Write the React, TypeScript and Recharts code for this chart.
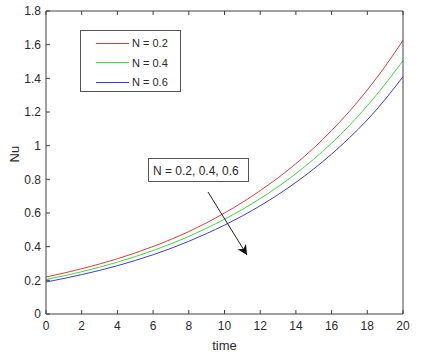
import React from 'react';
import { LineChart, Line, XAxis, YAxis, Label } from 'recharts';

const times = [0, 1, 2, 3, 4, 5, 6, 7, 8, 9, 10, 11, 12, 13, 14, 15, 16, 17, 18, 19, 20];
const nuN02 = [0.22, 0.243, 0.269, 0.297, 0.328, 0.363, 0.401, 0.443, 0.49, 0.542, 0.6, 0.663, 0.733, 0.809, 0.893, 0.986, 1.09, 1.204, 1.331, 1.471, 1.626];
const nuN04 = [0.205, 0.227, 0.251, 0.278, 0.308, 0.341, 0.377, 0.417, 0.461, 0.51, 0.563, 0.621, 0.686, 0.756, 0.834, 0.92, 1.015, 1.12, 1.237, 1.366, 1.505];
const nuN06 = [0.19, 0.211, 0.234, 0.259, 0.287, 0.318, 0.352, 0.39, 0.432, 0.478, 0.528, 0.583, 0.643, 0.709, 0.782, 0.862, 0.95, 1.047, 1.153, 1.275, 1.41];
const xTicks = [0, 2, 4, 6, 8, 10, 12, 14, 16, 18, 20];
const yTicks = [0, 0.2, 0.4, 0.6, 0.8, 1, 1.2, 1.4, 1.6, 1.8];

const series = [
  { key: 'n02', name: 'N = 0.2', color: '#e03c3c' },
  { key: 'n04', name: 'N = 0.4', color: '#3cdc3c' },
  { key: 'n06', name: 'N = 0.6', color: '#3c3cd8' },
];

const data = times.map((t, i) => ({ t, n02: nuN02[i], n04: nuN04[i], n06: nuN06[i] }));

const FONT = '"Liberation Sans", Arial, sans-serif';
const AXIS = '#404040';
const TEXT = '#2a2a2a';

const BottomTick = (props: any) => {
  const { x, y, payload } = props;
  return (
    <g>
      <line x1={x} y1={y} x2={x} y2={y - 4} stroke={AXIS} />
      <text x={x} y={y + 7} dy="0.71em" textAnchor="middle" fill={TEXT} fontSize={12} fontFamily={FONT}>
        {payload.value}
      </text>
    </g>
  );
};

const TopTick = (props: any) => {
  const { x, y } = props;
  return <line x1={x} y1={y} x2={x} y2={y + 4} stroke={AXIS} />;
};

const LeftTick = (props: any) => {
  const { x, y, payload } = props;
  return (
    <g>
      <line x1={x} y1={y} x2={x + 4} y2={y} stroke={AXIS} />
      <text x={x - 5} y={y} dy="0.355em" textAnchor="end" fill={TEXT} fontSize={12} fontFamily={FONT}>
        {payload.value}
      </text>
    </g>
  );
};

const RightTick = (props: any) => {
  const { x, y } = props;
  return <line x1={x} y1={y} x2={x - 4} y2={y} stroke={AXIS} />;
};

export default function App() {
  return (
    <div style={{ position: 'absolute', left: 0, top: 0, width: 421, height: 357, background: '#fff' }}>
      <LineChart width={421} height={357} data={data} margin={{ top: 10, right: 17, bottom: 13, left: 0 }}>
        <XAxis
          dataKey="t"
          type="number"
          domain={[0, 20]}
          ticks={xTicks}
          tickLine={false}
          tickSize={0}
          tickMargin={0}
          tick={BottomTick}
          height={30}
          stroke={AXIS}
          interval={0}
        >
          <Label value="time" position="insideBottom" offset={-6} fill={TEXT} fontSize={13} fontFamily={FONT} />
        </XAxis>
        <XAxis
          xAxisId="top"
          orientation="top"
          dataKey="t"
          type="number"
          domain={[0, 20]}
          ticks={xTicks}
          tickLine={false}
          tickSize={0}
          tickMargin={0}
          tick={TopTick}
          height={1}
          stroke={AXIS}
          interval={0}
        />
        <YAxis
          type="number"
          domain={[0, 1.8]}
          ticks={yTicks}
          tickLine={false}
          tickSize={0}
          tickMargin={0}
          tick={LeftTick}
          width={46}
          stroke={AXIS}
          interval={0}
        >
          <Label value="Nu" angle={-90} position="insideLeft" offset={14} fill={TEXT} fontSize={13} fontFamily={FONT} />
        </YAxis>
        <YAxis
          yAxisId="right"
          orientation="right"
          type="number"
          domain={[0, 1.8]}
          ticks={yTicks}
          tickLine={false}
          tickSize={0}
          tickMargin={0}
          tick={RightTick}
          width={1}
          stroke={AXIS}
          interval={0}
        />
        {series.map((s) => (
          <Line
            key={s.key}
            type="monotone"
            dataKey={s.key}
            name={s.name}
            stroke={s.color}
            strokeWidth={1}
            dot={false}
            isAnimationActive={false}
          />
        ))}
      </LineChart>

      {/* legend box */}
      <div
        style={{
          position: 'absolute',
          left: 80,
          top: 30,
          width: 99,
          height: 60,
          border: '1px solid #555',
          background: '#fff',
          fontFamily: FONT,
          fontSize: 11,
          color: TEXT,
        }}
      >
        {series.map((s, i) => (
          <div key={s.key} style={{ position: 'absolute', left: 15, top: 5 + i * 19.5, height: 14, display: 'flex', alignItems: 'center' }}>
            <div style={{ width: 33, height: 1, background: s.color, marginRight: 3 }} />
            <span>{s.name}</span>
          </div>
        ))}
      </div>

      {/* annotation */}
      <div
        style={{
          position: 'absolute',
          left: 148,
          top: 158,
          width: 101,
          height: 24,
          border: '1px solid #555',
          background: '#fff',
          fontFamily: FONT,
          fontSize: 12,
          color: TEXT,
          lineHeight: '24px',
          paddingLeft: 4,
          boxSizing: 'border-box',
        }}
      >
        N = 0.2, 0.4, 0.6
      </div>
      <svg width={421} height={357} style={{ position: 'absolute', left: 0, top: 0, pointerEvents: 'none' }}>
        <defs>
          <marker id="arrowHead" markerWidth="12" markerHeight="12" refX="10" refY="5" orient="auto" markerUnits="userSpaceOnUse">
            <path d="M0,0 L10,5 L0,10 L3,5 Z" fill="#111" />
          </marker>
        </defs>
        <line x1={208} y1={192} x2={247} y2={255} stroke="#222" strokeWidth={1} markerEnd="url(#arrowHead)" />
      </svg>
    </div>
  );
}
